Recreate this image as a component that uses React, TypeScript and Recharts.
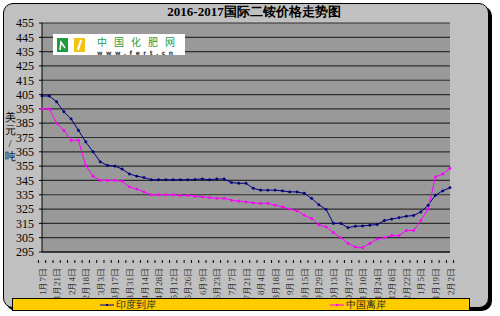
import { CartesianGrid, Line, LineChart, XAxis, YAxis } from "recharts";

const dates = [
  "1月7日", "1月14日", "1月21日", "1月28日", "2月4日", "2月11日", "2月18日", "2月25日",
  "3月3日", "3月10日", "3月17日", "3月24日", "3月31日", "4月7日", "4月14日", "4月21日",
  "4月28日", "5月5日", "5月12日", "5月19日", "5月26日", "6月2日", "6月9日", "6月16日",
  "6月23日", "6月30日", "7月7日", "7月14日", "7月21日", "7月28日", "8月4日", "8月11日",
  "8月18日", "8月25日", "9月1日", "9月8日", "9月15日", "9月22日", "9月29日", "10月6日",
  "10月13日", "10月20日", "10月27日", "11月3日", "11月10日", "11月17日", "11月24日", "12月1日",
  "12月8日", "12月15日", "12月22日", "12月29日", "1月5日", "1月12日", "1月19日", "1月26日",
  "2月2日",
];

// 印度到岸
const india = [
  404, 404, 400, 393, 388, 380, 372, 365, 358, 355.5, 355, 353, 349.5, 348, 347, 345.5,
  345.5, 345.5, 345.5, 345.5, 345.5, 345.7, 346, 345.5, 346, 346, 343.5, 343, 343, 339.5,
  338.2, 338.2, 338.2, 337.7, 337, 337, 336, 332.5, 328, 324.7, 315, 315, 312, 313, 313.2,
  313.7, 314.2, 317, 318, 319, 320, 320.5, 323, 327.7, 334.7, 337.7, 340,
];

// 中国离岸
const china = [
  395, 395, 385, 380, 373, 373, 355.5, 348, 345, 345, 345, 344.5, 340.5, 339, 337, 335,
  335, 335, 335, 334.5, 334.5, 334, 333.5, 333, 332.5, 332.5, 331.2, 330.5, 330, 329.3,
  329, 329, 327.7, 326.5, 325, 323.7, 320.7, 318.4, 314, 312.5, 308.6, 305, 301, 298.5,
  298, 301, 304, 305, 306.5, 306.5, 310, 310, 317, 325, 347.5, 349.5, 353.5,
];

const yTicks = [295, 305, 315, 325, 335, 345, 355, 365, 375, 385, 395, 405, 415, 425, 435, 445, 455];

const chartData = dates.map((date, i) => ({ date, india: india[i], china: china[i] }));

const serif = '"Liberation Serif", "Times New Roman", serif';
const PLOT_LEFT = 42;
const PLOT_RIGHT = 50;
const HALF_BAND = (500 - PLOT_LEFT - PLOT_RIGHT) / dates.length / 2;

function DateTick(props: any) {
  const { x, y, payload } = props;
  const index = props.index ?? payload.index ?? 0;
  const last = index === dates.length - 1;
  return (
    <g>
      <line x1={x - HALF_BAND} y1={y} x2={x - HALF_BAND} y2={y + 3} stroke="#000" />
      {last && <line x1={x + HALF_BAND} y1={y} x2={x + HALF_BAND} y2={y + 3} stroke="#000" />}
      {index % 2 === 0 && (
        <text
          transform={`translate(${x + 3.5},${y + 8}) rotate(-90)`}
          textAnchor="end"
          fontSize={9}
          fontFamily={serif}
          fill="#333"
        >
          {payload.value}
        </text>
      )}
    </g>
  );
}

function LegendItem({ color, label }: { color: string; label: string }) {
  return (
    <div style={{ display: "flex", alignItems: "center" }}>
      <svg width={14} height={6} style={{ marginRight: 2 }}>
        <line x1={0} y1={3} x2={14} y2={3} stroke={color} strokeWidth={1} />
        <rect x={6} y={2} width={2} height={2} fill={color} />
      </svg>
      <span style={{ fontSize: 10, color: "#222" }}>{label}</span>
    </div>
  );
}

export default function App() {
  return (
    <div style={{ position: "absolute", left: 0, top: 0, width: 500, height: 316, fontFamily: serif }}>
      <div
        style={{
          position: "absolute",
          left: 3,
          top: 3,
          width: 484,
          height: 303,
          border: "1px solid #000",
          borderRadius: 10,
          background: "#c0c0c0",
          boxShadow: "3px 3px 0 #000",
        }}
      />
      <div
        style={{
          position: "absolute",
          left: 4,
          top: 4,
          width: 500,
          textAlign: "center",
          fontSize: 13,
          fontWeight: "bold",
          lineHeight: "15px",
        }}
      >
        2016-2017国际二铵价格走势图
      </div>
      <div style={{ position: "absolute", left: 4, top: 111, width: 12, fontSize: 11, lineHeight: "13px", textAlign: "center" }}>
        美<br />元<br />/<br />吨
      </div>
      <div style={{ position: "absolute", left: 0, top: 0 }}>
        <LineChart
          width={500}
          height={316}
          data={chartData}
          margin={{ top: 23, right: PLOT_RIGHT, left: 0, bottom: 0 }}
        >
          <CartesianGrid vertical={false} stroke="#2e2e2e" strokeWidth={1.2} fill="#999999" fillOpacity={1} />
          <XAxis
            dataKey="date"
            interval={0}
            height={64}
            axisLine={{ stroke: "#000" }}
            tickLine={false}
            tick={<DateTick />}
          />
          <YAxis
            width={PLOT_LEFT}
            domain={[295, 455]}
            ticks={yTicks}
            interval={0}
            axisLine={{ stroke: "#000" }}
            tickLine={{ stroke: "#000" }}
            tickSize={3}
            tickMargin={5}
            tick={{ fill: "#000", fontSize: 12, fontFamily: serif }}
          />
          <Line
            dataKey="india"
            name="印度到岸"
            stroke="#000080"
            strokeWidth={1}
            dot={{ r: 1.2, fill: "#000080", stroke: "#000080", strokeWidth: 0.5 }}
            isAnimationActive={false}
          />
          <Line
            dataKey="china"
            name="中国离岸"
            stroke="#ff00ff"
            strokeWidth={1}
            dot={{ r: 1.2, fill: "#ff00ff", stroke: "#ff00ff", strokeWidth: 0.5 }}
            isAnimationActive={false}
          />
        </LineChart>
      </div>
      <div
        style={{
          position: "absolute",
          left: 53,
          top: 34,
          width: 132,
          height: 21,
          background: "#fff",
        }}
      >
        <svg width={32} height={21} style={{ position: "absolute", left: 3, top: 0 }}>
          <rect x={1} y={4} width={11} height={14} fill="#1e9b3c" />
          <path d="M4 16 L5 8 L9 14" stroke="#fff" strokeWidth={1.5} fill="none" />
          <rect x={18} y={4} width={11} height={14} fill="#f2c418" />
          <path d="M22 16 L25 6" stroke="#fff" strokeWidth={2} fill="none" />
        </svg>
        <div
          style={{
            position: "absolute",
            left: 44,
            top: 3,
            fontSize: 10,
            lineHeight: "10px",
            letterSpacing: 7,
            color: "#1e9b3c",
            fontFamily: '"Noto Sans CJK SC", sans-serif',
          }}
        >
          中国化肥网
        </div>
        <div
          style={{
            position: "absolute",
            left: 44,
            top: 15.5,
            fontSize: 6,
            lineHeight: "6px",
            letterSpacing: 3.5,
            fontWeight: "bold",
            color: "#333",
            fontFamily: '"DejaVu Sans", sans-serif',
          }}
        >
          www.fert.cn
        </div>
      </div>
      <div
        style={{
          position: "absolute",
          left: 12,
          top: 298,
          width: 456,
          height: 11,
          background: "#ffcc00",
          border: "1px solid #000",
        }}
      >
        <div style={{ position: "absolute", left: 87, top: -1 }}>
          <LegendItem color="#000080" label="印度到岸" />
        </div>
        <div style={{ position: "absolute", left: 317, top: -1 }}>
          <LegendItem color="#ff00ff" label="中国离岸" />
        </div>
      </div>
    </div>
  );
}
